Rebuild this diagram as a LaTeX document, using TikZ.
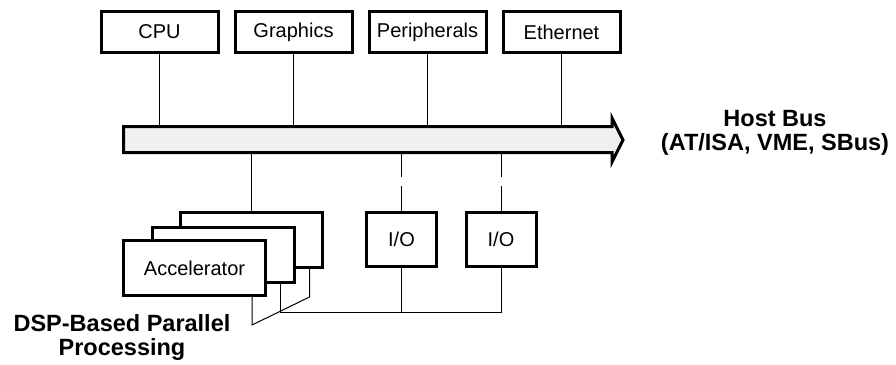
\documentclass[tikz,border=0pt]{standalone}
\usepackage{fontspec}
\setmainfont{Liberation Sans}
\usetikzlibrary{positioning}
\usetikzlibrary{calc}
\definecolor{busgray}{RGB}{239,240,242}
\tikzstyle{box} = [draw,line width=3pt,fill=white,minimum width=117pt,minimum height=41pt,inner sep=0pt,font=\fontsize{20}{23}\selectfont]
\tikzstyle{stack} = [box,minimum width=142pt,minimum height=55pt]
\tikzstyle{iobox} = [box,minimum width=70pt,minimum height=54pt]
\tikzstyle{wire} = [line width=1pt]
\tikzstyle{label} = [align=center,font=\fontsize{23.5}{24}\selectfont\bfseries]

\begin{document}
\begin{tikzpicture}[x=1pt,y=-1pt]
\useasboundingbox (0,0) rectangle (896,364);
% devices on the host bus
\node[box] (cpu) at (159.5,32) {CPU};
\node[box,right=14pt of cpu] (gfx) {Graphics};
\node[box,right=14pt of gfx] (per) {Peripherals};
\node[box,right=14pt of per] (eth) {Ethernet};
% host bus
\draw[line width=3pt,fill=busgray,line join=miter]
	(123.5,126.5) -- (612,126.5) -- (612,118) -- (623,140) -- (612,162)
	-- (612,152.5) -- (123.5,152.5) -- cycle;
\coordinate (bustop) at (0,126.5);
\coordinate (busbot) at (0,152.5);
\node[label] (hostbus) at (775,133) {Host Bus\\(AT/ISA, VME, SBus)};
\foreach \n in {cpu,gfx,per,eth}{
	\draw[wire] (\n.south) -- (\n.south |- bustop);
}
% accelerator stack
\node[stack] (acc3) at (251,239.5) {};
\node[stack] (acc2) at (223,254.5) {};
\node[stack] (acc) at (194.5,268) {Accelerator};
\node[iobox] (io1) at (401.5,239.5) {I/O};
\node[iobox] (io2) at (501,239.5) {I/O};
\draw[wire] (acc3.north) -- (acc3.north |- busbot);
\foreach \n in {io1,io2}{
	\draw[wire,dash pattern=on 25pt off 9pt] (\n.north) -- (\n.north |- busbot);
}
% local bus
\coordinate (a1) at ([xshift=-15pt]acc.south east);
\coordinate (a2) at ([xshift=-15pt]acc2.south east);
\coordinate (a3) at ([xshift=-14pt]acc3.south east);
\coordinate (j1) at ($(a1)+(0,28)$);
\coordinate (j3) at (a3 |- acc.south);
\coordinate (lb) at (0,312);
\draw[wire] (a1) -- (j1) -- (j3) -- (a3);
\draw[wire] (a2) -- (a2 |- lb) -- (io2.south |- lb) -- (io2.south);
\draw[wire] (io1.south) -- (io1.south |- lb);
\node[label] (dsp) at (122,337) {DSP-Based Parallel\\Processing};
\end{tikzpicture}
\end{document}
